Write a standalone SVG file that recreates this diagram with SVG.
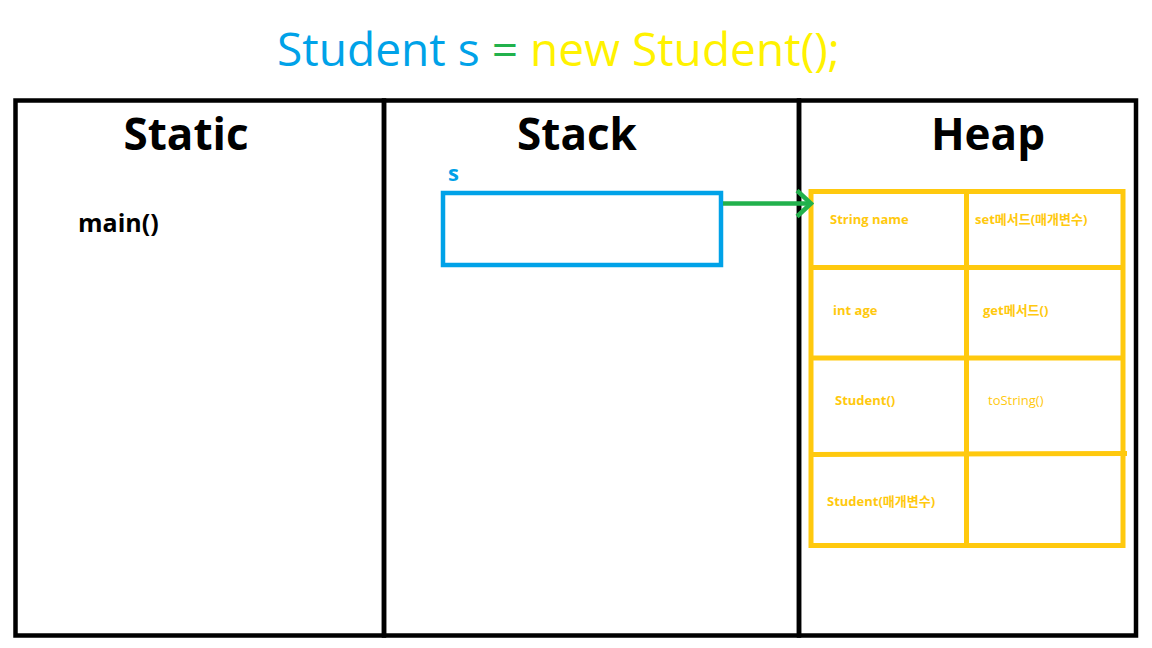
<svg xmlns="http://www.w3.org/2000/svg" width="1152" height="648" viewBox="0 0 1152 648">
<defs>
<style>
.frame{fill:none;stroke:#000;stroke-width:4.5}
.hdr{font-family:"Open Sans","Noto Sans",sans-serif;font-weight:700;font-size:44px;fill:#000;text-anchor:middle}
.cell{fill:none;stroke:#FFC90E;stroke-width:5}
.ct{font-family:"Open Sans","Noto Sans","Noto Sans CJK KR",sans-serif;font-weight:700;font-size:13px;fill:#FFC90E}
.ctr{font-family:"Open Sans","Noto Sans",sans-serif;font-weight:400;font-size:13px;fill:#FFC90E}
</style>
<marker id="chev" viewBox="0 0 20 30" refX="17" refY="15" markerWidth="20" markerHeight="30" markerUnits="userSpaceOnUse" orient="auto">
<path d="M3,2 L17,15 L3,28" fill="none" stroke="#22B14C" stroke-width="4.5"/>
</marker>
</defs>
<rect width="1152" height="648" fill="#fff"/>
<text x="277" y="66" font-family="Open Sans, Noto Sans, sans-serif" font-size="46" textLength="563" lengthAdjust="spacingAndGlyphs"><tspan fill="#00A2E8">Student s </tspan><tspan fill="#22B14C">=</tspan><tspan fill="#FFF200"> new Student();</tspan></text>
<g id="static">
<rect class="frame" x="15.5" y="100.5" width="368.5" height="535"/>
<text class="hdr" x="186" y="150">Static</text>
<text x="78" y="232" font-family="Open Sans, Noto Sans, sans-serif" font-weight="700" font-size="25">main()</text>
</g>
<g id="stack">
<rect class="frame" x="384" y="100.5" width="415" height="535"/>
<text class="hdr" x="577" y="150">Stack</text>
<text x="448" y="181" font-family="Open Sans, Noto Sans, sans-serif" font-weight="700" font-size="22" fill="#00A2E8">s</text>
<rect id="s-box" x="443" y="193" width="278" height="72" fill="none" stroke="#00A2E8" stroke-width="4.5"/>
</g>
<g id="heap">
<rect class="frame" x="799" y="100.5" width="337" height="535"/>
<text class="hdr" x="988" y="150">Heap</text>
<g id="object">
<rect class="cell" x="811" y="191.5" width="312" height="354"/>
<line class="cell" x1="966.5" y1="191.5" x2="966.5" y2="545.5"/>
<line class="cell" x1="811" y1="267.5" x2="1123" y2="267.5"/>
<line class="cell" x1="811" y1="358" x2="1123" y2="358"/>
<line class="cell" x1="811" y1="454.5" x2="1127" y2="453.5"/>
<text class="ct" x="830" y="224">String name</text>
<text class="ct" x="975" y="224">set메서드(매개변수)</text>
<text class="ct" x="833" y="315">int age</text>
<text class="ct" x="983" y="315">get메서드()</text>
<text class="ct" x="835" y="405">Student()</text>
<text class="ctr" x="988" y="405">toString()</text>
<text class="ct" x="827" y="506">Student(매개변수)</text>
</g>
</g>
<g id="connectors">
<line x1="723" y1="203.5" x2="811" y2="203.5" stroke="#22B14C" stroke-width="4.5" marker-end="url(#chev)"/>
</g>
</svg>
